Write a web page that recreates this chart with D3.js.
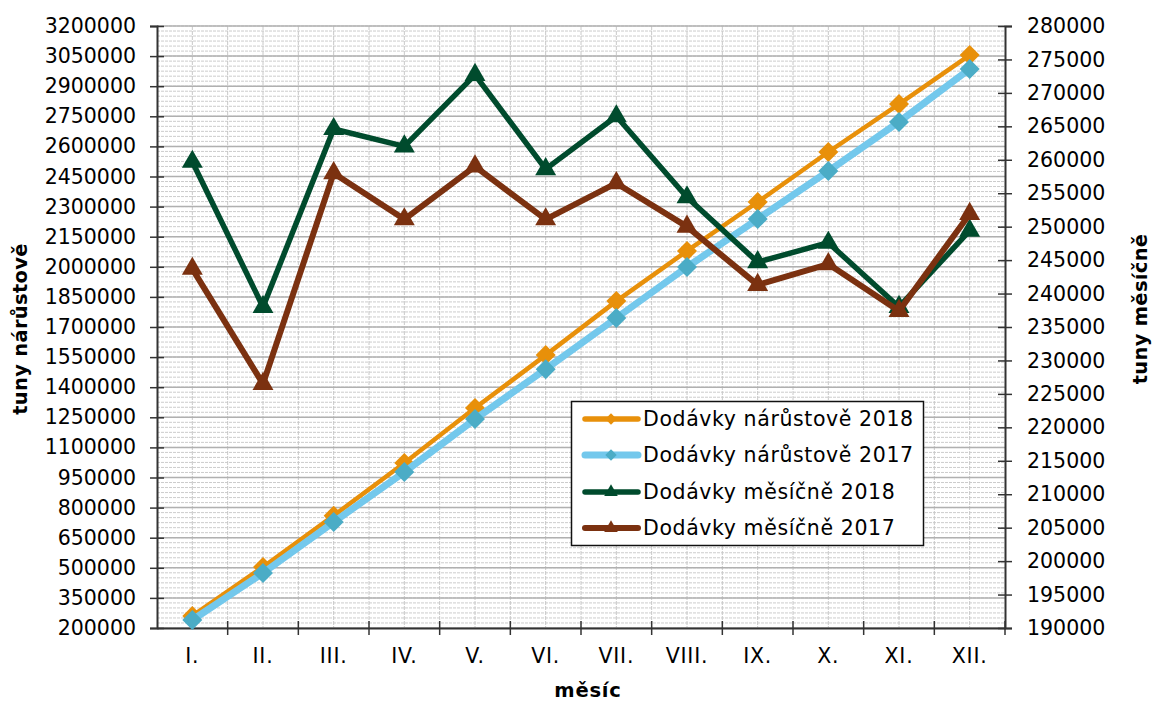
<!DOCTYPE html>
<html><head><meta charset="utf-8">
<script src="https://cdn.jsdelivr.net/npm/d3@7/dist/d3.min.js"></script>
<style>
body{margin:0;background:#fff;}
text{font-family:"DejaVu Sans",Verdana,sans-serif;}
</style></head>
<body><svg id="c" width="1155" height="702"></svg>
<script>
const months = ["I.","II.","III.","IV.","V.","VI.","VII.","VIII.","IX.","X.","XI.","XII."];
const cum2018 = [260000,504000,760000,1022000,1296000,1560000,1829000,2079000,2323000,2572000,2811000,3055000];
const cum2017 = [240000,474000,728000,977000,1241000,1490000,1745000,1999000,2238000,2477000,2722000,2986000];
const mon2018 = [259700,238000,264600,262000,272700,258600,266500,254400,244700,247600,238000,249400];
const mon2017 = [243700,226500,258000,251100,259000,251100,256500,250000,241300,244400,237400,251900];
const leftTicks = d3.range(200000, 3200001, 150000);
const rightTicks = d3.range(190000, 280001, 5000);
const minorTicks = d3.range(200000, 3200001, 25000);
const seriesNames = ["Dodávky nárůstově 2018","Dodávky nárůstově 2017","Dodávky měsíčně 2018","Dodávky měsíčně 2017"];

const L=157, R=1005, T=26, B=628;
const svg = d3.select("#c");
const x = d3.scaleBand().domain(months).range([L,R]);
const xc = d => x(d) + x.bandwidth()/2;
const yL = d3.scaleLinear().domain([200000,3200000]).range([B,T]);
const yR = d3.scaleLinear().domain([190000,280000]).range([B,T]);

// grid
const g = svg.append("g");
g.selectAll(".mn").data(minorTicks).enter().append("line")
 .attr("x1",L).attr("x2",R).attr("y1",d=>yL(d)).attr("y2",d=>yL(d))
 .attr("stroke","#cccccc").attr("stroke-width",1).attr("stroke-dasharray","3,1");
const vx = [];
months.forEach(m=>{vx.push(x(m)); vx.push(xc(m));});
g.selectAll(".vg").data(vx.slice(1)).enter().append("line")
 .attr("x1",d=>d).attr("x2",d=>d).attr("y1",T).attr("y2",B)
 .attr("stroke","#c8c8c8").attr("stroke-width",1).attr("stroke-dasharray","4,1");
g.selectAll(".mj").data(leftTicks).enter().append("line")
 .attr("x1",L).attr("x2",R).attr("y1",d=>yL(d)).attr("y2",d=>yL(d))
 .attr("stroke","#b0b0b0").attr("stroke-width",1.5);

// axes
function styleAxis(sel){
  sel.select(".domain").attr("stroke","#333").attr("stroke-width",2);
  sel.selectAll(".tick text").attr("font-size","20.5px").attr("fill","#000").attr("font-family","DejaVu Sans, sans-serif");
}
const axL = svg.append("g").attr("transform",`translate(${L},0)`)
 .call(d3.axisLeft(yL).tickValues(leftTicks).tickSizeOuter(0).tickSize(7).tickPadding(14).tickFormat(d3.format("d")));
styleAxis(axL);
axL.selectAll(".tick line").attr("x2",-7).attr("x1",7).attr("stroke","#333").attr("stroke-width",1.5);

const axR = svg.append("g").attr("transform",`translate(${R},0)`)
 .call(d3.axisRight(yR).tickValues(rightTicks).tickSizeOuter(0).tickSize(7).tickPadding(15).tickFormat(d3.format("d")));
styleAxis(axR);
axR.selectAll(".tick line").attr("x1",-7).attr("x2",7).attr("stroke","#333").attr("stroke-width",1.5);

const axB = svg.append("g").attr("transform",`translate(0,${B})`)
 .call(d3.axisBottom(x).tickSize(0).tickPadding(20).tickSizeOuter(0));
styleAxis(axB);
axB.selectAll(".tick text").attr("dy","0.71em").attr("letter-spacing","0.8px");
axB.selectAll(".bt").data(months.map(m=>x(m)).concat([R]).slice(1)).enter().append("line")
 .attr("x1",d=>d).attr("x2",d=>d).attr("y1",-7).attr("y2",7).attr("stroke","#333").attr("stroke-width",1.5);

// series
const series = [
 {vals:cum2018, y:yL, line:"#E8900A", mark:"#E8900A", w:4.5, sym:"d", name:seriesNames[0]},
 {vals:cum2017, y:yL, line:"#73C8EC", mark:"#4BACC6", w:7, sym:"d", name:seriesNames[1]},
 {vals:mon2018, y:yR, line:"#004B2D", mark:"#004B2D", w:5.5, sym:"t", name:seriesNames[2]},
 {vals:mon2017, y:yR, line:"#7B3110", mark:"#7B3110", w:6, sym:"t", name:seriesNames[3]}
];
function symPath(s, big){
  if(s.sym==="d") return d3.symbol().type(d3.symbolSquare).size(big?200:64)();
  return d3.symbol().type(d3.symbolTriangle).size(big?190:80)();
}
const rot = s => s.sym==="d" ? " rotate(45)" : "";
const sg = svg.append("g");
series.forEach(s=>{
  const ln = d3.line().x((d,i)=>xc(months[i])).y(d=>s.y(d));
  sg.append("path").attr("d",ln(s.vals)).attr("fill","none").attr("stroke",s.line)
    .attr("stroke-width",s.w).attr("stroke-linejoin","round").attr("stroke-linecap","round");
  sg.selectAll(null).data(s.vals).enter().append("path")
    .attr("d",symPath(s,true))
    .attr("transform",(d,i)=>`translate(${xc(months[i])},${s.y(d)})${rot(s)}`)
    .attr("fill",s.mark);
});

// legend
const lg = svg.append("g");
lg.append("rect").attr("x",571.5).attr("y",401.5).attr("width",352).attr("height",144)
 .attr("fill","#fff").attr("stroke","#111").attr("stroke-width",1.5);
const rowsY = [419,455,492,528];
series.forEach((s,i)=>{
  const yy = rowsY[i];
  lg.append("line").attr("x1",585).attr("x2",638).attr("y1",yy).attr("y2",yy)
    .attr("stroke",s.line).attr("stroke-width",Math.max(s.w,5.5)).attr("stroke-linecap","round");
  lg.append("path").attr("d",symPath(s,false))
    .attr("transform",`translate(611,${yy})${rot(s)}`).attr("fill",s.mark);
  lg.append("text").attr("x",643).attr("y",yy).attr("dy","0.35em").attr("font-size","20.5px")
    .attr("letter-spacing","0.6px").text(s.name);
});

// titles
svg.append("text").attr("x",588).attr("y",690).attr("dy","0.35em").attr("text-anchor","middle")
 .attr("font-weight","bold").attr("font-size","19.5px").attr("letter-spacing","0.8px").text("měsíc");
svg.append("text").attr("transform","translate(20,329) rotate(-90)").attr("dy","0.35em").attr("text-anchor","middle")
 .attr("font-weight","bold").attr("font-size","19.5px").attr("letter-spacing","0.3px").text("tuny nárůstově");
svg.append("text").attr("transform","translate(1140,309) rotate(-90)").attr("dy","0.35em").attr("text-anchor","middle")
 .attr("font-weight","bold").attr("font-size","19.5px").attr("letter-spacing","0.3px").text("tuny měsíčně");
</script></body></html>
